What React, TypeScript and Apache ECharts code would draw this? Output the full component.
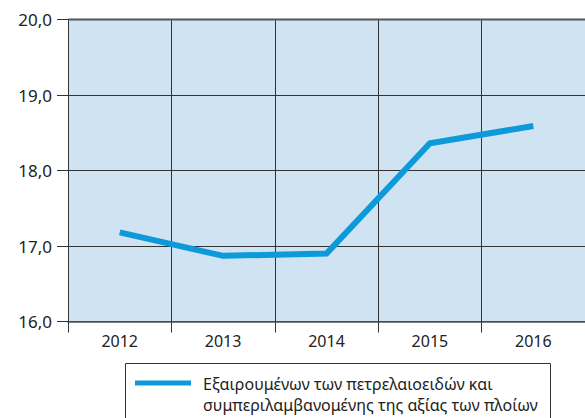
import React, { useEffect, useRef } from "react";
import * as echarts from "echarts";

const categories = ["2012", "2013", "2014", "2015", "2016"];
const legendLines = ["Εξαιρουμένων των πετρελαιοειδών και", "συμπεριλαμβανομένης της αξίας των πλοίων"];
const seriesName = legendLines.join(" ");
const values = [17.18, 16.87, 16.9, 18.36, 18.59];
const yMin = 16;
const yMax = 20;

export default function App() {
  const ref = useRef<HTMLDivElement>(null);
  useEffect(() => {
    const chart = echarts.init(ref.current!, null, { renderer: "svg" });
    const font = "'Noto Sans', sans-serif";
    const lineColor = "#0C9ADB";
    chart.setOption({
      animation: false,
      grid: {
        left: 68,
        right: -11,
        top: 19.5,
        bottom: 96.5,
        show: true,
        backgroundColor: "#CFE3F3",
        borderWidth: 0,
      },
      xAxis: {
        type: "category",
        data: categories,
        boundaryGap: true,
        axisLine: { show: true, lineStyle: { color: "#555", width: 1.5 } },
        axisTick: { show: true, length: 11, alignWithLabel: false, lineStyle: { color: "#333", width: 1 } },
        axisLabel: { color: "#222", fontSize: 16, fontFamily: font, margin: 11 },
        splitLine: { show: true, lineStyle: { color: "#333", width: 1 } },
      },
      yAxis: {
        type: "value",
        min: yMin,
        max: yMax,
        interval: 1,
        axisLine: { show: true, lineStyle: { color: "#333", width: 1 } },
        axisTick: { show: true, length: 11, lineStyle: { color: "#333", width: 1 } },
        axisLabel: {
          color: "#222",
          fontSize: 17,
          fontFamily: font,
          margin: 16,
          formatter: (v: number) => v.toFixed(1).replace(".", ","),
        },
        splitLine: { show: true, lineStyle: { color: "#333", width: 1 } },
      },
      graphic: [
        {
          type: "rect",
          shape: { x: 125.5, y: 363.5, width: 425, height: 70 },
          style: { fill: "none", stroke: "#333", lineWidth: 1 },
          z: 10,
        },
        {
          type: "line",
          shape: { x1: 68, y1: 19.5, x2: 585, y2: 19.5 },
          style: { stroke: "#555", lineWidth: 2 },
          z: 10,
        },
        {
          type: "line",
          shape: { x1: 135, y1: 383, x2: 191, y2: 383 },
          style: { stroke: lineColor, lineWidth: 5 },
          z: 10,
        },
        {
          type: "text",
          x: 203,
          y: 384,
          style: {
            text: legendLines[0],
            fill: "#222",
            fontSize: 16,
            fontFamily: font,
            verticalAlign: "middle",
            align: "left",
          },
          z: 10,
        },
        {
          type: "text",
          x: 203,
          y: 405,
          style: {
            text: legendLines[1],
            fill: "#222",
            fontSize: 16,
            fontFamily: font,
            verticalAlign: "middle",
            align: "left",
          },
          z: 10,
        },
      ],
      series: [
        {
          name: seriesName,
          type: "line",
          data: values,
          symbol: "none",
          lineStyle: { color: lineColor, width: 6, join: "miter" },
          itemStyle: { color: lineColor },
          z: 5,
        },
      ],
    });
    return () => chart.dispose();
  }, []);
  return <div ref={ref} style={{ width: 585, height: 418, position: "absolute", left: 0, top: 0 }} />;
}
